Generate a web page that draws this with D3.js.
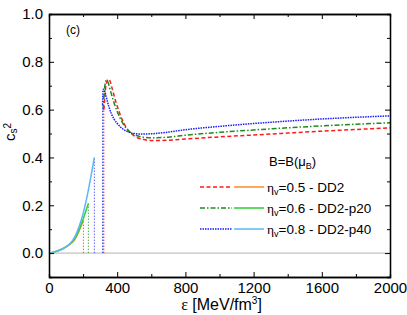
<!DOCTYPE html>
<html>
<head>
<meta charset="utf-8">
<script src="https://cdn.jsdelivr.net/npm/d3@7"></script>
<style>
  body { margin: 0; background: #fff; }
  svg { font-family: "Liberation Sans", Arial, sans-serif; }
  .axis path, .axis line { stroke: #000; }
</style>
</head>
<body>
<svg id="chart" width="407" height="315"></svg>
<script>
// hadronic branch (solid), eps in MeV/fm^3, c_s^2
var hadEps05 = [0, 25, 50, 75, 100, 125, 150, 175, 202];
var hadCs05  = [0, 0.004, 0.009, 0.016, 0.026, 0.038, 0.056, 0.09, 0.137];
var hadEps06 = [0, 25, 50, 75, 100, 125, 150, 175, 200, 231];
var hadCs06  = [0, 0.004, 0.009, 0.016, 0.026, 0.039, 0.06, 0.095, 0.142, 0.207];
var hadEps08 = [0, 25, 50, 75, 100, 125, 150, 175, 200, 230, 266];
var hadCs08  = [0, 0.004, 0.009, 0.016, 0.027, 0.041, 0.066, 0.108, 0.165, 0.26, 0.40];

// quark branch (broken lines)
var qEps05 = [322, 332, 342, 348, 356, 370, 385, 400, 430, 460, 500, 550, 600, 700, 800, 1000, 1200, 1400, 1600, 1800, 2000];
var qCs05  = [0.60, 0.69, 0.722, 0.727, 0.722, 0.69, 0.65, 0.615, 0.557, 0.518, 0.49, 0.476, 0.471, 0.472, 0.477, 0.486, 0.494, 0.502, 0.51, 0.517, 0.524];
var qEps06 = [318, 326, 332, 337, 345, 360, 380, 400, 430, 460, 500, 550, 600, 700, 800, 1000, 1200, 1400, 1600, 1800, 2000];
var qCs06  = [0.60, 0.69, 0.717, 0.724, 0.716, 0.68, 0.632, 0.592, 0.547, 0.516, 0.496, 0.485, 0.482, 0.485, 0.493, 0.505, 0.515, 0.524, 0.532, 0.539, 0.545];
var qEps08 = [314, 318, 324, 335, 350, 365, 380, 400, 430, 460, 500, 550, 600, 700, 800, 1000, 1200, 1400, 1600, 1800, 2000];
var qCs08  = [0.62, 0.685, 0.683, 0.655, 0.615, 0.584, 0.562, 0.542, 0.521, 0.508, 0.5, 0.498, 0.499, 0.506, 0.516, 0.53, 0.542, 0.552, 0.561, 0.568, 0.574];

var legendLabels = ["0.5 - DD2", "0.6 - DD2-p20", "0.8 - DD2-p40"];
var xTicks = [0, 400, 800, 1200, 1600, 2000];
var yTicks = [0, 0.2, 0.4, 0.6, 0.8, 1.0];

var svg = d3.select("#chart"),
    margin = {top: 14, right: 17, bottom: 38, left: 49},
    width = +svg.attr("width") - margin.left - margin.right,
    height = +svg.attr("height") - margin.top - margin.bottom;

var x = d3.scaleLinear().domain([0, 2000]).range([0, width]),
    y = d3.scaleLinear().domain([-0.1, 1.0]).range([height, 0]);

var g = svg.append("g")
    .attr("transform", "translate(" + margin.left + "," + margin.top + ")");

// zero line
g.append("line")
    .attr("x1", 0).attr("x2", width)
    .attr("y1", y(0)).attr("y2", y(0))
    .attr("stroke", "#b4b4b4").attr("stroke-width", 1);

var series = [
    {hx: hadEps05, hy: hadCs05, qx: qEps05, qy: qCs05, solid: "#ff8a2a", broken: "#ff1a1a", dash: "4,2.5"},
    {hx: hadEps06, hy: hadCs06, qx: qEps06, qy: qCs06, solid: "#2fd12f", broken: "#1f8a1f", dash: "5,2,1.5,2"},
    {hx: hadEps08, hy: hadCs08, qx: qEps08, qy: qCs08, solid: "#5ab8f5", broken: "#1a1aff", dash: "1.5,1"}
];

var line = d3.line()
    .x(function (d) { return x(d[0]); })
    .y(function (d) { return y(d[1]); })
    .curve(d3.curveMonotoneX);

series.forEach(function (s) {
    var had = s.hx.map(function (e, i) { return [e, s.hy[i]]; });
    var qrk = s.qx.map(function (e, i) { return [e, s.qy[i]]; });
    var hEnd = had[had.length - 1];
    // vertical dotted drop at end of hadronic branch
    g.append("line")
        .attr("x1", x(hEnd[0])).attr("x2", x(hEnd[0]))
        .attr("y1", y(0)).attr("y2", y(hEnd[1]))
        .attr("stroke", s.broken).attr("stroke-width", 1)
        .attr("stroke-dasharray", "1.5,1.5").attr("opacity", 0.7);
    // vertical dotted rise at start of quark branch
    g.append("line")
        .attr("x1", x(qrk[0][0])).attr("x2", x(qrk[0][0]))
        .attr("y1", y(0)).attr("y2", y(qrk[0][1]))
        .attr("stroke", s.broken).attr("stroke-width", 1)
        .attr("stroke-dasharray", "1.5,1.5").attr("opacity", 0.7);
    g.append("path")
        .datum(had)
        .attr("fill", "none")
        .attr("stroke", s.solid)
        .attr("stroke-width", 1.5)
        .attr("d", line);
    g.append("path")
        .datum(qrk)
        .attr("fill", "none")
        .attr("stroke", s.broken)
        .attr("stroke-width", 1.5)
        .attr("stroke-dasharray", s.dash)
        .attr("d", line);
});

// axes with inward ticks
var xMinor = [200, 600, 1000, 1400, 1800],
    yMinor = [-0.1, 0.1, 0.3, 0.5, 0.7, 0.9];

g.append("g").attr("class", "axis")
    .attr("transform", "translate(0," + height + ")")
    .call(d3.axisBottom(x).tickValues(xMinor).tickSize(-3).tickFormat(""));
g.append("g").attr("class", "axis")
    .attr("transform", "translate(0," + height + ")")
    .call(d3.axisBottom(x).tickValues(xTicks).tickSize(-5).tickPadding(5).tickSizeOuter(0).tickFormat(d3.format("d")));
g.append("g").attr("class", "axis")
    .call(d3.axisTop(x).tickValues(xMinor).tickSize(-3).tickFormat(""));
g.append("g").attr("class", "axis")
    .call(d3.axisTop(x).tickValues(xTicks).tickSize(-5).tickFormat("").tickSizeOuter(0));

g.append("g").attr("class", "axis")
    .call(d3.axisLeft(y).tickValues(yMinor).tickSize(-3).tickFormat(""));
g.append("g").attr("class", "axis")
    .call(d3.axisLeft(y).tickValues(yTicks).tickSize(-5).tickPadding(6).tickSizeOuter(0).tickFormat(d3.format(".1f")));
g.append("g").attr("class", "axis")
    .attr("transform", "translate(" + width + ",0)")
    .call(d3.axisRight(y).tickValues(yMinor).tickSize(-3).tickFormat(""));
g.append("g").attr("class", "axis")
    .attr("transform", "translate(" + width + ",0)")
    .call(d3.axisRight(y).tickValues(yTicks).tickSize(-5).tickFormat("").tickSizeOuter(0));

g.selectAll(".axis .domain").attr("stroke-width", 1.3);
g.selectAll(".axis text")
    .attr("font-family", "Liberation Sans, Arial, sans-serif")
    .attr("font-size", 15)
    .attr("fill", "#000");

// panel label
g.append("text")
    .attr("x", 17).attr("y", 20)
    .attr("font-size", 12)
    .text("(c)");

// axis titles
var xl = svg.append("text")
    .attr("x", margin.left + width / 2 + 2).attr("y", 310)
    .attr("text-anchor", "middle")
    .attr("font-size", 16);
xl.append("tspan").attr("font-family", "Liberation Serif, serif").text("ε");
xl.append("tspan").text(" [MeV/fm");
xl.append("tspan").attr("font-size", 10).attr("dy", -6).text("3");
xl.append("tspan").attr("dy", 6).text("]");

var yl = svg.append("text")
    .attr("transform", "translate(15,132)rotate(-90)")
    .attr("text-anchor", "middle")
    .attr("font-size", 15);
yl.append("tspan").text("c");
yl.append("tspan").attr("font-size", 10).attr("dy", 2).text("s");
yl.append("tspan").attr("font-size", 10).attr("dy", -6).text("2");

// legend
var lg = svg.append("g").attr("transform", "translate(200,166)");
var b = lg.append("text").attr("x", 69).attr("y", 0).attr("font-size", 13);
b.append("tspan").text("B=B(μ");
b.append("tspan").attr("font-size", 9).attr("dy", 3).text("B");
b.append("tspan").attr("dy", -3).text(")");

series.forEach(function (s, i) {
    var yy = 21 + i * 21;
    lg.append("line")
        .attr("x1", 0).attr("x2", 32).attr("y1", yy).attr("y2", yy)
        .attr("stroke", s.broken).attr("stroke-width", 1.5)
        .attr("stroke-dasharray", s.dash);
    lg.append("line")
        .attr("x1", 34).attr("x2", 64).attr("y1", yy).attr("y2", yy)
        .attr("stroke", s.solid).attr("stroke-width", 1.5);
    var t = lg.append("text").attr("x", 67).attr("y", yy + 5).attr("font-size", 13.5);
    t.append("tspan").attr("font-family", "Liberation Serif, serif").text("η");
    t.append("tspan").attr("font-size", 9).attr("dy", 3).text("v");
    t.append("tspan").attr("dy", -3).text("=" + legendLabels[i]);
});
</script>
</body>
</html>
